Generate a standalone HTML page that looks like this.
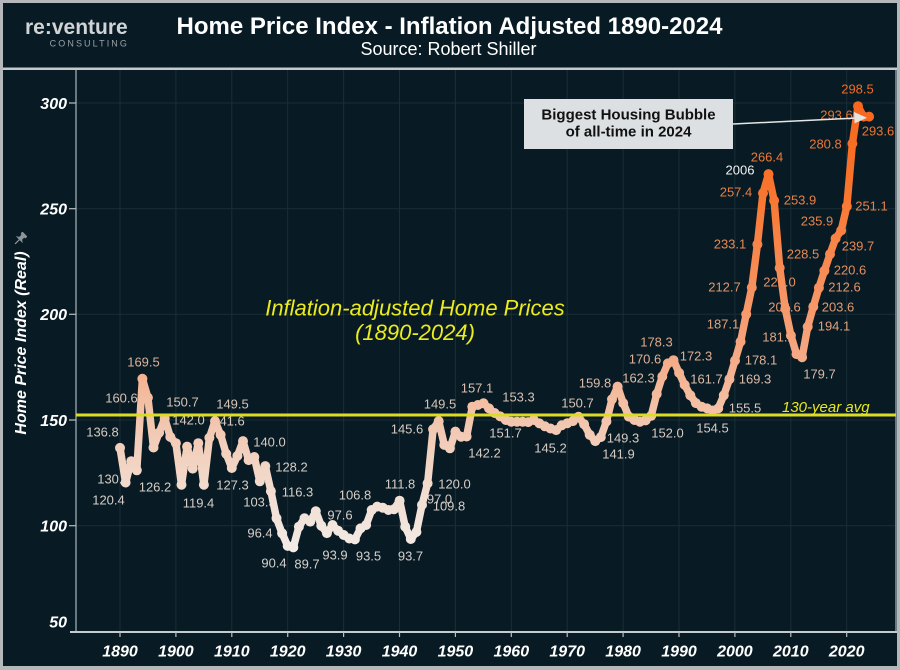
<!DOCTYPE html>
<html>
<head>
<meta charset="utf-8">
<style>
html,body{margin:0;padding:0;background:#081a23;}
svg{display:block;font-family:"Liberation Sans",Arial,sans-serif;}
</style>
</head>
<body>
<svg width="900" height="670" viewBox="0 0 900 670" xmlns="http://www.w3.org/2000/svg">
<defs>
<linearGradient id="sg" gradientUnits="userSpaceOnUse" x1="0" y1="100" x2="0" y2="550">
<stop offset="0" stop-color="#f8661c"/>
<stop offset="0.19" stop-color="#f8742c"/>
<stop offset="0.38" stop-color="#f78c55"/>
<stop offset="0.55" stop-color="#f5a680"/>
<stop offset="0.66" stop-color="#f3bda0"/>
<stop offset="0.76" stop-color="#f2cdb9"/>
<stop offset="0.9" stop-color="#f2e0d5"/>
<stop offset="1" stop-color="#f3ebe6"/>
</linearGradient>
<linearGradient id="lg" gradientUnits="userSpaceOnUse" x1="0" y1="80" x2="0" y2="580">
<stop offset="0.02" stop-color="#f06c24"/>
<stop offset="0.22" stop-color="#e97d40"/>
<stop offset="0.38" stop-color="#e58d5c"/>
<stop offset="0.5" stop-color="#e0a27f"/>
<stop offset="0.6" stop-color="#d9bcaa"/>
<stop offset="0.68" stop-color="#d6cac1"/>
<stop offset="1" stop-color="#d6d2cf"/>
</linearGradient>
</defs>

<rect x="0" y="0" width="900" height="670" fill="#081a23"/>
<rect x="1.5" y="1.5" width="897" height="666" fill="none" stroke="#b4b8ba" stroke-width="3"/>
<rect x="0" y="666" width="900" height="4" fill="#b4b8ba"/>
<rect x="3" y="67.5" width="894" height="2.5" fill="#c5c9cb"/>

<text x="25" y="34" font-size="21" font-weight="bold" fill="#d0d4d6">re:venture</text>
<text x="129" y="46.5" font-size="9" letter-spacing="2.1" text-anchor="end" fill="#9aa3a8">CONSULTING</text>
<text x="449.5" y="34" font-size="24" font-weight="bold" fill="#ffffff" text-anchor="middle">Home Price Index - Inflation Adjusted 1890-2024</text>
<text x="448.5" y="55" font-size="18" fill="#ffffff" text-anchor="middle">Source: Robert Shiller</text>

<g stroke="#1a2e39" stroke-width="1">
<line x1="120" y1="70" x2="120" y2="632"/>
<line x1="175.9" y1="70" x2="175.9" y2="632"/>
<line x1="231.8" y1="70" x2="231.8" y2="632"/>
<line x1="287.7" y1="70" x2="287.7" y2="632"/>
<line x1="343.6" y1="70" x2="343.6" y2="632"/>
<line x1="399.5" y1="70" x2="399.5" y2="632"/>
<line x1="455.4" y1="70" x2="455.4" y2="632"/>
<line x1="511.3" y1="70" x2="511.3" y2="632"/>
<line x1="567.2" y1="70" x2="567.2" y2="632"/>
<line x1="623.1" y1="70" x2="623.1" y2="632"/>
<line x1="679" y1="70" x2="679" y2="632"/>
<line x1="734.9" y1="70" x2="734.9" y2="632"/>
<line x1="790.8" y1="70" x2="790.8" y2="632"/>
<line x1="846.7" y1="70" x2="846.7" y2="632"/>
<line x1="76" y1="103" x2="896" y2="103"/>
<line x1="76" y1="208.7" x2="896" y2="208.7"/>
<line x1="76" y1="314.3" x2="896" y2="314.3"/>
<line x1="76" y1="420" x2="896" y2="420"/>
<line x1="76" y1="525.7" x2="896" y2="525.7"/>
</g>

<line x1="76" y1="70" x2="76" y2="633" stroke="#8a989e" stroke-width="1.5"/>
<line x1="896" y1="70" x2="896" y2="633" stroke="#8a989e" stroke-width="1.5"/>
<line x1="70" y1="632" x2="897" y2="632" stroke="#c5cacc" stroke-width="2"/>
<g stroke="#b9bec0" stroke-width="1.2">
<line x1="69" y1="103" x2="76" y2="103"/>
<line x1="69" y1="208.7" x2="76" y2="208.7"/>
<line x1="69" y1="314.3" x2="76" y2="314.3"/>
<line x1="69" y1="420" x2="76" y2="420"/>
<line x1="69" y1="525.7" x2="76" y2="525.7"/>
<line x1="120" y1="632" x2="120" y2="637"/>
<line x1="175.9" y1="632" x2="175.9" y2="637"/>
<line x1="231.8" y1="632" x2="231.8" y2="637"/>
<line x1="287.7" y1="632" x2="287.7" y2="637"/>
<line x1="343.6" y1="632" x2="343.6" y2="637"/>
<line x1="399.5" y1="632" x2="399.5" y2="637"/>
<line x1="455.4" y1="632" x2="455.4" y2="637"/>
<line x1="511.3" y1="632" x2="511.3" y2="637"/>
<line x1="567.2" y1="632" x2="567.2" y2="637"/>
<line x1="623.1" y1="632" x2="623.1" y2="637"/>
<line x1="679" y1="632" x2="679" y2="637"/>
<line x1="734.9" y1="632" x2="734.9" y2="637"/>
<line x1="790.8" y1="632" x2="790.8" y2="637"/>
<line x1="846.7" y1="632" x2="846.7" y2="637"/>
</g>

<g font-size="16" font-weight="bold" font-style="italic" fill="#ffffff" text-anchor="end">
<text x="67" y="108.8">300</text>
<text x="67" y="214.5">250</text>
<text x="67" y="320.1">200</text>
<text x="67" y="425.8">150</text>
<text x="67" y="531.5">100</text>
<text x="67" y="627.5">50</text>
</g>
<g font-size="16" font-weight="bold" font-style="italic" fill="#ffffff" text-anchor="middle">
<text x="120" y="656.5">1890</text>
<text x="175.9" y="656.5">1900</text>
<text x="231.8" y="656.5">1910</text>
<text x="287.7" y="656.5">1920</text>
<text x="343.6" y="656.5">1930</text>
<text x="399.5" y="656.5">1940</text>
<text x="455.4" y="656.5">1950</text>
<text x="511.3" y="656.5">1960</text>
<text x="567.2" y="656.5">1970</text>
<text x="623.1" y="656.5">1980</text>
<text x="679" y="656.5">1990</text>
<text x="734.9" y="656.5">2000</text>
<text x="790.8" y="656.5">2010</text>
<text x="846.7" y="656.5">2020</text>
</g>

<text transform="translate(26,343) rotate(-90)" font-size="16" font-weight="bold" font-style="italic" fill="#ffffff" text-anchor="middle">Home Price Index (Real)</text>
<g transform="translate(20,239) rotate(45)" fill="#8c959a">
<rect x="-3.5" y="-7" width="7" height="3" rx="1"/>
<rect x="-2" y="-5" width="4" height="6"/>
<polygon points="-5,1 5,1 2,-1 -2,-1"/>
<rect x="-0.6" y="1" width="1.2" height="6"/>
</g>

<g font-size="22" font-style="italic" fill="#ebeb1e" text-anchor="middle">
<text x="415" y="315.5">Inflation-adjusted Home Prices</text>
<text x="415" y="340">(1890-2024)</text>
</g>

<g font-size="13" fill="url(#lg)" text-anchor="middle">
<text x="102.5" y="436.4">136.8</text>
<text x="113.5" y="483.7">130.5</text>
<text x="108.5" y="504.7">120.4</text>
<text x="143.5" y="366.4">169.5</text>
<text x="121.5" y="402.7">160.6</text>
<text x="155" y="491.4">126.2</text>
<text x="182.5" y="406.7">150.7</text>
<text x="188.5" y="424.7">142.0</text>
<text x="198.5" y="507.7">119.4</text>
<text x="232.5" y="408.7">149.5</text>
<text x="228.5" y="425.7">141.6</text>
<text x="232.5" y="489.7">127.3</text>
<text x="269.5" y="446.4">140.0</text>
<text x="291.5" y="471.4">128.2</text>
<text x="297.5" y="496.4">116.3</text>
<text x="259.5" y="506.7">103.5</text>
<text x="260" y="537.7">96.4</text>
<text x="274" y="567.7">90.4</text>
<text x="307" y="568.7">89.7</text>
<text x="335" y="559.7">93.9</text>
<text x="368.5" y="560.7">93.5</text>
<text x="340" y="519.7">97.6</text>
<text x="355" y="499.7">106.8</text>
<text x="400" y="488.7">111.8</text>
<text x="410.5" y="560.7">93.7</text>
<text x="439.5" y="503.7">97.0</text>
<text x="449" y="510.4">109.8</text>
<text x="454.5" y="488.4">120.0</text>
<text x="407" y="433.7">145.6</text>
<text x="440" y="408.7">149.5</text>
<text x="477" y="392.7">157.1</text>
<text x="484.5" y="457.7">142.2</text>
<text x="518.5" y="401.4">153.3</text>
<text x="505.5" y="437.7">151.7</text>
<text x="550.5" y="452.7">145.2</text>
<text x="577.5" y="407.7">150.7</text>
<text x="595" y="387.7">159.8</text>
<text x="623" y="442.7">149.3</text>
<text x="618.5" y="458.7">141.9</text>
<text x="638.5" y="382.7">162.3</text>
<text x="645" y="363.7">170.6</text>
<text x="656.5" y="346.7">178.3</text>
<text x="667.5" y="437.7">152.0</text>
<text x="696" y="360.7">172.3</text>
<text x="706.5" y="383.7">161.7</text>
<text x="712.5" y="432.7">154.5</text>
<text x="745" y="412.7">155.5</text>
<text x="755" y="383.7">169.3</text>
<text x="761" y="364.4">178.1</text>
<text x="723" y="328.7">187.1</text>
<text x="778.5" y="341.7">181.2</text>
<text x="819.5" y="378.7">179.7</text>
<text x="834" y="330.7">194.1</text>
<text x="767" y="161.7">266.4</text>
<text x="736" y="196.7">257.4</text>
<text x="800" y="204.7">253.9</text>
<text x="871.5" y="210.7">251.1</text>
<text x="817" y="225.7">235.9</text>
<text x="730" y="248.7">233.1</text>
<text x="858" y="250.7">239.7</text>
<text x="803" y="258.7">228.5</text>
<text x="850" y="274.7">220.6</text>
<text x="724.5" y="291.7">212.7</text>
<text x="779.5" y="286.7">222.0</text>
<text x="844.5" y="291.7">212.6</text>
<text x="838" y="311.7">203.6</text>
<text x="784.5" y="311.7">202.6</text>
<text x="857.5" y="93.7">298.5</text>
<text x="836.5" y="119.7">293.6</text>
<text x="878" y="135.7">293.6</text>
<text x="825.5" y="148.7">280.8</text>
</g>
<text x="740" y="174.7" font-size="13" fill="#f2f2f2" text-anchor="middle">2006</text>

<polyline fill="none" stroke="url(#sg)" stroke-width="7.5" stroke-linejoin="round" stroke-linecap="round" points="120.0,447.9 125.6,482.5 131.2,461.2 136.8,470.3 142.4,378.8 147.9,397.6 153.5,447.5 159.1,432.7 164.7,418.5 170.3,436.9 175.9,443.2 181.5,484.7 187.1,446.6 192.7,468.6 198.3,443.2 203.9,484.7 209.4,437.8 215.0,421.1 220.6,434.8 226.2,453.8 231.8,468.0 237.4,455.9 243.0,441.1 248.6,460.1 254.3,457.0 259.8,481.3 265.3,466.1 270.9,491.2 276.5,518.3 282.1,533.3 287.7,545.9 293.3,547.4 298.9,526.7 304.5,518.3 310.2,521.6 315.8,511.3 321.3,525.7 326.9,533.1 332.5,525.0 338.1,530.7 343.7,535.0 349.3,538.5 354.9,539.4 360.5,528.4 366.1,525.0 371.7,510.0 377.2,506.6 382.8,507.7 388.4,510.0 394.0,509.2 399.6,500.7 405.2,526.7 410.8,539.0 416.4,532.0 422.0,504.9 427.6,483.4 433.1,429.3 438.7,421.1 444.3,444.9 449.9,448.3 455.4,431.6 461.1,436.7 466.6,436.5 472.3,406.7 477.9,405.0 483.5,403.3 489.0,408.4 494.6,413.0 500.2,416.4 505.8,420.0 511.3,421.7 517.0,421.7 522.6,421.7 528.2,422.1 533.8,420.0 539.4,423.4 544.9,426.3 550.5,428.5 556.1,430.1 561.7,425.3 567.3,423.2 572.9,421.1 578.5,416.8 584.1,424.2 589.7,434.8 595.3,441.1 600.8,437.1 606.4,421.5 612.0,399.3 617.6,386.6 623.2,403.1 628.8,416.6 634.4,420.0 640.0,421.7 645.6,420.4 651.2,415.8 656.7,394.0 662.3,376.5 667.9,363.4 673.5,360.2 679.1,372.9 684.7,384.9 690.3,395.3 695.9,403.1 701.5,406.7 707.1,408.4 712.6,410.5 718.2,408.4 723.8,395.3 729.4,379.2 735.0,360.6 740.6,341.6 746.2,314.3 751.8,287.5 757.4,244.4 763.0,193.1 768.5,174.1 774.1,200.5 779.7,267.9 785.3,308.9 790.9,335.5 796.5,354.1 802.1,357.2 807.7,326.8 813.3,306.7 818.9,287.7 824.4,270.8 830.0,254.1 835.6,238.5 841.2,230.5 846.8,206.4 852.4,143.6 858.0,106.2 863.6,116.6 869.1,116.6"/>
<g fill="url(#sg)">
<circle cx="120.0" cy="447.9" r="5"/><circle cx="125.6" cy="482.5" r="5"/><circle cx="131.2" cy="461.2" r="5"/><circle cx="136.8" cy="470.3" r="5"/><circle cx="142.4" cy="378.8" r="5"/><circle cx="147.9" cy="397.6" r="5"/><circle cx="153.5" cy="447.5" r="5"/><circle cx="159.1" cy="432.7" r="5"/><circle cx="164.7" cy="418.5" r="5"/><circle cx="170.3" cy="436.9" r="5"/>
<circle cx="175.9" cy="443.2" r="5"/><circle cx="181.5" cy="484.7" r="5"/><circle cx="187.1" cy="446.6" r="5"/><circle cx="192.7" cy="468.6" r="5"/><circle cx="198.3" cy="443.2" r="5"/><circle cx="203.9" cy="484.7" r="5"/><circle cx="209.4" cy="437.8" r="5"/><circle cx="215.0" cy="421.1" r="5"/><circle cx="220.6" cy="434.8" r="5"/><circle cx="226.2" cy="453.8" r="5"/>
<circle cx="231.8" cy="468.0" r="5"/><circle cx="237.4" cy="455.9" r="5"/><circle cx="243.0" cy="441.1" r="5"/><circle cx="248.6" cy="460.1" r="5"/><circle cx="254.3" cy="457.0" r="5"/><circle cx="259.8" cy="481.3" r="5"/><circle cx="265.3" cy="466.1" r="5"/><circle cx="270.9" cy="491.2" r="5"/><circle cx="276.5" cy="518.3" r="5"/><circle cx="282.1" cy="533.3" r="5"/>
<circle cx="287.7" cy="545.9" r="5"/><circle cx="293.3" cy="547.4" r="5"/><circle cx="298.9" cy="526.7" r="5"/><circle cx="304.5" cy="518.3" r="5"/><circle cx="310.2" cy="521.6" r="5"/><circle cx="315.8" cy="511.3" r="5"/><circle cx="321.3" cy="525.7" r="5"/><circle cx="326.9" cy="533.1" r="5"/><circle cx="332.5" cy="525.0" r="5"/><circle cx="338.1" cy="530.7" r="5"/>
<circle cx="343.7" cy="535.0" r="5"/><circle cx="349.3" cy="538.5" r="5"/><circle cx="354.9" cy="539.4" r="5"/><circle cx="360.5" cy="528.4" r="5"/><circle cx="366.1" cy="525.0" r="5"/><circle cx="371.7" cy="510.0" r="5"/><circle cx="377.2" cy="506.6" r="5"/><circle cx="382.8" cy="507.7" r="5"/><circle cx="388.4" cy="510.0" r="5"/><circle cx="394.0" cy="509.2" r="5"/>
<circle cx="399.6" cy="500.7" r="5"/><circle cx="405.2" cy="526.7" r="5"/><circle cx="410.8" cy="539.0" r="5"/><circle cx="416.4" cy="532.0" r="5"/><circle cx="422.0" cy="504.9" r="5"/><circle cx="427.6" cy="483.4" r="5"/><circle cx="433.1" cy="429.3" r="5"/><circle cx="438.7" cy="421.1" r="5"/><circle cx="444.3" cy="444.9" r="5"/><circle cx="449.9" cy="448.3" r="5"/>
<circle cx="455.4" cy="431.6" r="5"/><circle cx="461.1" cy="436.7" r="5"/><circle cx="466.6" cy="436.5" r="5"/><circle cx="472.3" cy="406.7" r="5"/><circle cx="477.9" cy="405.0" r="5"/><circle cx="483.5" cy="403.3" r="5"/><circle cx="489.0" cy="408.4" r="5"/><circle cx="494.6" cy="413.0" r="5"/><circle cx="500.2" cy="416.4" r="5"/><circle cx="505.8" cy="420.0" r="5"/>
<circle cx="511.3" cy="421.7" r="5"/><circle cx="517.0" cy="421.7" r="5"/><circle cx="522.6" cy="421.7" r="5"/><circle cx="528.2" cy="422.1" r="5"/><circle cx="533.8" cy="420.0" r="5"/><circle cx="539.4" cy="423.4" r="5"/><circle cx="544.9" cy="426.3" r="5"/><circle cx="550.5" cy="428.5" r="5"/><circle cx="556.1" cy="430.1" r="5"/><circle cx="561.7" cy="425.3" r="5"/>
<circle cx="567.3" cy="423.2" r="5"/><circle cx="572.9" cy="421.1" r="5"/><circle cx="578.5" cy="416.8" r="5"/><circle cx="584.1" cy="424.2" r="5"/><circle cx="589.7" cy="434.8" r="5"/><circle cx="595.3" cy="441.1" r="5"/><circle cx="600.8" cy="437.1" r="5"/><circle cx="606.4" cy="421.5" r="5"/><circle cx="612.0" cy="399.3" r="5"/><circle cx="617.6" cy="386.6" r="5"/>
<circle cx="623.2" cy="403.1" r="5"/><circle cx="628.8" cy="416.6" r="5"/><circle cx="634.4" cy="420.0" r="5"/><circle cx="640.0" cy="421.7" r="5"/><circle cx="645.6" cy="420.4" r="5"/><circle cx="651.2" cy="415.8" r="5"/><circle cx="656.7" cy="394.0" r="5"/><circle cx="662.3" cy="376.5" r="5"/><circle cx="667.9" cy="363.4" r="5"/><circle cx="673.5" cy="360.2" r="5"/>
<circle cx="679.1" cy="372.9" r="5"/><circle cx="684.7" cy="384.9" r="5"/><circle cx="690.3" cy="395.3" r="5"/><circle cx="695.9" cy="403.1" r="5"/><circle cx="701.5" cy="406.7" r="5"/><circle cx="707.1" cy="408.4" r="5"/><circle cx="712.6" cy="410.5" r="5"/><circle cx="718.2" cy="408.4" r="5"/><circle cx="723.8" cy="395.3" r="5"/><circle cx="729.4" cy="379.2" r="5"/>
<circle cx="735.0" cy="360.6" r="5"/><circle cx="740.6" cy="341.6" r="5"/><circle cx="746.2" cy="314.3" r="5"/><circle cx="751.8" cy="287.5" r="5"/><circle cx="757.4" cy="244.4" r="5"/><circle cx="763.0" cy="193.1" r="5"/><circle cx="768.5" cy="174.1" r="5"/><circle cx="774.1" cy="200.5" r="5"/><circle cx="779.7" cy="267.9" r="5"/><circle cx="785.3" cy="308.9" r="5"/>
<circle cx="790.9" cy="335.5" r="5"/><circle cx="796.5" cy="354.1" r="5"/><circle cx="802.1" cy="357.2" r="5"/><circle cx="807.7" cy="326.8" r="5"/><circle cx="813.3" cy="306.7" r="5"/><circle cx="818.9" cy="287.7" r="5"/><circle cx="824.4" cy="270.8" r="5"/><circle cx="830.0" cy="254.1" r="5"/><circle cx="835.6" cy="238.5" r="5"/><circle cx="841.2" cy="230.5" r="5"/>
<circle cx="846.8" cy="206.4" r="5"/><circle cx="852.4" cy="143.6" r="5"/><circle cx="858.0" cy="106.2" r="5"/><circle cx="863.6" cy="116.6" r="5"/><circle cx="869.1" cy="116.6" r="5"/>
</g>

<line x1="76" y1="415" x2="896" y2="415" stroke="#dcdc26" stroke-width="3"/>
<text x="782" y="412" font-size="15" font-style="italic" fill="#e8e820">130-year avg</text>

<rect x="524" y="99" width="209" height="50" fill="#dde0e2"/>
<g font-size="15" font-weight="bold" fill="#111111" text-anchor="middle">
<text x="628.5" y="119.3">Biggest Housing Bubble</text>
<text x="628.5" y="136.7">of all-time in 2024</text>
</g>
<line x1="733" y1="124" x2="857" y2="118" stroke="#e6e6e6" stroke-width="1.5"/>
<polygon points="867,117.8 854,112 854.6,123.4" fill="#e6e6e6"/>
</svg>
</body>
</html>
